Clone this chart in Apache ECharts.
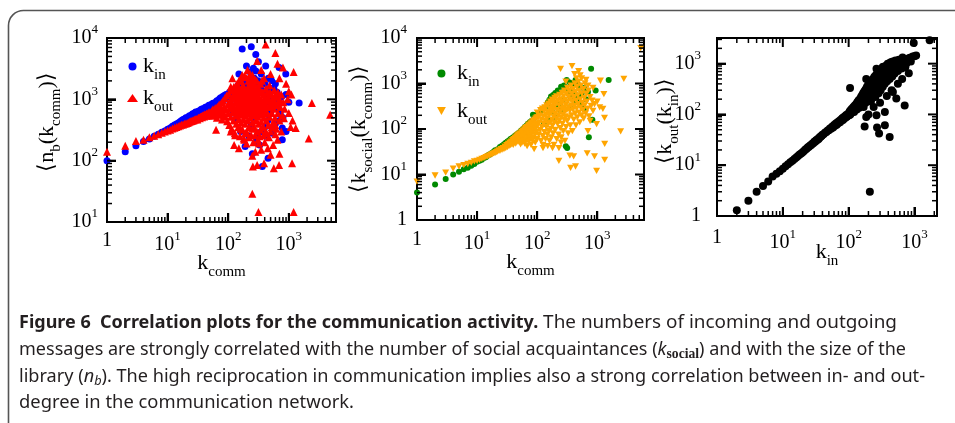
<!DOCTYPE html>
<html><head><meta charset="utf-8">
<script src="https://cdn.jsdelivr.net/npm/echarts@6/dist/echarts.min.js"></script>
<style>html,body{margin:0;padding:0;background:#fff}#c{width:955px;height:423px}</style>
</head><body><div id="c"></div>
<script>
// ---------------- DATA ----------------
// Panel 1: <n_b(k_comm)> vs k_comm
const p1_kin = [
[1,100],[2,140],[3,175],[4,205],[5,225],[6,250],[7,270],[8,290],[9,305],[10,325],[11,340],[12,365],[13,380],[14,395],[15,410],[16,430],[17,450],[18,470],[19,480],[20,500],[21,490],[22,520],[23,540],[24,530],[25,560],[26,580],[27,550],[28,600],[29,620],[30,600],[32,640],[34,660],[36,690],[38,700],[40,680],[42,740],[44,750],[46,720],[48,800],[50,770],[53,830],[56,860],[59,820],[62,900],[65,950],[68,880],[71,1000],[74,1050],[77,950],[80,1100],[83,1050],[86,1150],[89,1000],[92,1200],[95,1100],[98,1150],
[105,1300],[112,1150],[120,1400],[128,1250],[136,1500],[145,1700],[155,1450],[165,1900],[175,1600],[185,2100],[195,1800],[205,1500],[215,2000],[225,1700],[240,2300],[255,1900],[270,2200],[290,1800],[310,2000],[330,1600],[360,1400],[400,1800],[440,1300],[480,1100],[530,1500],[580,1000],[640,1300],[700,900],[760,1100],
[170,6600],[240,7200],[285,5400],[315,4100],[415,3500],[690,3300],[890,2600],[1480,870],[285,2900],[565,1500],[260,3200],[200,3500],[350,2600],[460,2200],[520,2000],[600,1800],[900,1200],[1000,900],[150,2600],[230,2800],
[780,340],[780,220],[535,280],[415,250],[250,130],[190,170],[455,110],[365,80],[300,250],[280,200],[220,250],[160,300],[350,300],[400,350],[450,450],[500,600],[650,700],[720,600],[800,500],[600,400],[250,500],[200,600],[150,700],[180,900],[220,800],[260,700],[320,600],[380,800],[430,900],[130,450],[120,600],[140,900],[110,800],[700,450],[550,350],[330,180],[240,380],[900,300]
];
const p1_kout = [
[1,140],[2,175],[3,210],[4,220],[5,240],[6,255],[7,270],[8,285],[9,300],[10,310],[11,320],[12,335],[13,345],[14,355],[15,365],[16,375],[17,385],[18,390],[19,400],[20,405],[21,410],[22,420],[23,430],[24,440],[25,445],[26,450],[27,455],[28,470],[29,475],[30,480],[31,470],[32,500],[33,505],[34,490],[35,520],[36,530],[37,510],[38,545],[39,550],[40,525],[41,570],[42,560],[43,540],[44,590],[45,575],[46,545],[47,610],[48,600],[49,560],[50,620],[52,580],[54,650],[55,540],[56,690],[58,610],[60,560],[61,720],[63,640],[65,500],[66,760],[68,600],[70,680],[71,820],[73,560],[75,720],[77,880],[79,470],[80,640],[82,950],[84,560],[86,760],[88,1050],[90,520],[92,680],[94,1150],[96,440],[98,820],[100,600],
[102,1250],[104,380],[106,720],[108,950],[110,520],[112,1400],[114,330],[116,800],[118,620],[120,1100],[122,450],[124,1600],[126,700],[128,280],[130,900],[132,540],[134,1300],[136,400],[138,750],[140,1800],[142,600],[144,1000],[146,350],[148,820],[150,480],[152,1500],[154,650],[156,250],[158,1100],[160,720],[162,420],[164,2000],[166,880],[168,560],[170,1250],[172,320],[174,700],[176,1700],[178,480],[180,950],[182,620],[184,220],[186,1400],[188,780],[190,400],[192,1050],[194,540],[196,2300],[198,850],[200,300],[203,650],[206,1200],[209,450],[212,900],[215,1600],[218,580],[221,350],[224,1000],[227,750],[230,2600],[233,500],[236,1300],[239,260],[242,850],[245,620],[248,1800],[251,420],[254,1100],[257,700],[260,200],[263,950],[266,550],[269,1450],[272,340],[275,800],[278,2100],[281,600],[284,1000],[287,450],[290,1250],[294,720],[298,300],[302,880],[306,520],[310,1600],[314,650],[318,400],[322,1100],[326,780],[330,250],[335,950],[340,560],[345,1350],[350,430],[355,700],[360,2000],[366,600],[372,900],[378,350],[384,1200],[390,500],[396,800],[402,280],[410,650],[418,1500],[426,450],[434,950],[442,600],[450,1100],[460,380],[470,750],[480,520],[490,1300],[500,300],[512,880],[524,600],[536,1000],[548,420],[560,700],[575,1400],[590,500],[605,850],[620,330],[640,1100],[660,600],[680,900],[700,450],[720,750],[750,1200],[780,550],[810,900],
[105,900],[110,1600],[115,1050],[120,750],[125,1250],[130,650],[135,1500],[140,1150],[145,900],[150,2000],[155,1350],[160,1000],[165,600],[170,1600],[175,1150],[180,780],[185,2400],[190,1250],[195,700],[200,1400],[205,1000],[210,750],[215,2000],[220,1250],[225,600],[230,1500],[235,850],[240,1100],[245,2200],[250,900],[255,1600],[260,1250],[265,750],[270,1800],[275,1000],[280,850],[285,1400],[290,650],[295,2000],[300,1200],[310,900],[320,1400],[330,700],[340,1800],[350,1000],[360,750],[370,1300],[380,900],[390,2200],[400,1050],[420,800],[440,1300],[460,950],[480,1700],[500,800],[520,1200],[550,900],[580,1100],[620,800],[660,1300],[700,1000],
[110,300],[130,260],[160,330],[190,280],[220,240],[250,330],[280,260],[310,220],[340,320],[380,260],[420,300],[470,240],[520,350],[600,380],
[117,2200],[208,3000],[300,4200],[415,7800],[600,5700],[350,3000],[250,2500],[170,2500],[500,2600],[700,2200],[1000,1350],[1100,1200],[1200,2800],[2400,870],[4800,560],[830,490],[1070,355],[1300,340],[2130,230],[1130,91],[690,85],[565,75],[390,91],[300,85],[255,80],[250,120],[500,125],[250,29],[315,14.6],[1200,14.6],[150,160],[125,180],[63,320],[900,1800],[850,700],[750,300],[650,220],[550,180],[450,160],[400,200],[350,150],[320,190],[280,140],[200,190],[180,230],[1000,600],[600,270],[700,130],[950,1000],[1150,450],[800,3300],[650,3800],[230,1900],[180,1500],[140,1400]
];
// Panel 2: <k_social(k_comm)> vs k_comm
const p2_kin = [
[1,4],[2,6],[3,8],[4,10],[5,11.5],[6,13],[7,14],[8,15.5],[9,17],[10,19],[11,20],[12,21],[13,23],[14,24],[15,26],[16,27],[17,29],[18,30],[19,32],[20,34],[22,36],[24,40],[26,43],[28,46],[30,50],[32,53],[34,56],[36,60],[38,63],[40,66],[43,72],[46,77],[50,84],[54,92],[58,100],[62,110],[66,118],[70,130],[75,140],[80,150],[85,205],[90,175],[95,190],[100,210],[110,230],[120,260],[130,290],[147,315],[170,520],[150,380],[160,440],[185,560],[200,620],[220,700],[250,850],[280,900],[310,1200],[350,1050],[380,730],[435,1200],[400,950],[470,1000],[500,850],[790,2100],[1550,1200],[940,700],[600,800],[700,650],[550,600],[300,700],[330,600],[360,500],[420,600],[480,500],[650,450],[830,160],[725,66],[316,38],[300,42],[350,300],[250,250],[200,180],[160,160],[130,130],[240,350],[270,450],[450,400],[550,350],[600,280],[220,300],[180,230]
];
const p2_kout = [
[1,7],[2,9.5],[3,11],[4,13.5],[5,15],[6,16],[7,17],[8,18],[9,19.5],[10,20],[11,21],[12,22],[13,23],[14,24],[15,25],[16,26],[17,27],[18,28],[19,29],[20,30],[21,31],[22,32],[23,34],[24,33],[25,36],[26,35],[27,38],[28,36],[29,41],[30,38],[31,44],[32,40],[33,47],[34,42],[35,50],[36,44],[37,53],[38,46],[39,57],[40,45],[41,60],[42,50],[43,64],[44,48],[45,68],[46,55],[47,72],[48,52],[49,76],[50,58],[52,80],[53,46],[54,62],[55,86],[56,50],[57,66],[58,92],[59,55],[60,70],[61,98],[62,48],[63,75],[64,104],[65,58],[66,80],[67,110],[68,42],[69,65],[70,86],[71,118],[72,52],[73,92],[74,125],[75,70],[76,60],[77,98],[78,133],[79,45],[80,78],[81,105],[82,140],[83,56],[84,88],[85,112],[86,150],[87,65],[88,95],[89,36],[90,120],[91,160],[92,75],[93,50],[94,100],[95,170],[96,130],[97,60],[98,85],[99,180],
[100,230],[100,60],[102,120],[104,180],[106,75],[108,140],[110,200],[112,95],[114,260],[116,55],[118,160],[120,110],[122,280],[124,70],[126,190],[128,130],[130,250],[132,85],[134,300],[136,150],[138,60],[140,210],[142,110],[144,330],[146,170],[148,75],[150,240],[152,130],[154,360],[156,90],[158,200],[160,55],[162,280],[164,140],[166,400],[168,100],[170,230],[172,65],[174,310],[176,160],[178,440],[180,120],[182,260],[184,80],[186,350],[188,190],[190,45],[192,300],[194,140],[196,480],[198,220],[200,95],[203,380],[206,170],[209,520],[212,60],[215,260],[218,130],[221,420],[224,200],[227,75],[230,330],[233,150],[236,560],[239,240],[242,105],[245,450],[248,180],[251,65],[254,360],[257,280],[260,620],[263,130],[266,400],[269,210],[272,90],[275,520],[278,300],[281,160],[284,700],[287,240],[290,55],[293,440],[296,190],[300,340],[304,110],[308,600],[312,260],[316,150],[320,800],[324,400],[328,80],[332,300],[336,520],[340,180],[345,700],[350,250],[355,120],[360,450],[365,900],[370,330],[375,200],[380,600],[385,90],[390,400],[395,270],[400,750],[406,160],[412,500],[418,320],[424,1000],[430,220],[436,650],[442,120],[448,420],[454,280],[460,850],[467,180],[474,550],[481,350],[488,1100],[495,230],[503,700],[511,140],[519,450],[527,300],[535,900],[545,200],[555,600],[565,380],[575,260],[585,750],[595,170],[605,480],[615,330],[625,1000],[640,220],[655,600],[670,400],[690,280],[710,700],[730,190],[760,500],[790,320],[820,420],
[125,38],[180,38],[230,20],[245,2100],[350,26],[360,14],[380,2400],[405,25],[435,15],[490,1860],[680,29],[900,25],[975,12],[975,128],[1130,1150],[2770,1260],[1290,585],[1240,277],[1320,175],[2450,89],[1330,47],[1330,21],[5300,6000],[1000,400],[1100,300],[700,900],[650,1200],[550,1300],[850,800],[900,350],[125,45],[230,38],[520,1500],[450,1300],[300,1100],[420,1600],[850,250],[760,150],[700,90],[250,50],[150,42]
];
// Panel 3: <k_out(k_in)> vs k_in
const p3_kout = [
[2,1.3],[3,2],[4,3],[5,3.9],[6,4.8],[7,6],[8,6.8],[9,7.6],[10,8.5],[11,9.5],[12,10.5],[13,11.4],[14,12.3],[15,13.3],[16,14.2],[17,15.2],[18,16.2],[19,17],[20,18],[21,19],[22,20.5],[23,21],[24,22.5],[25,23],[26,24.5],[27,25],[28,26.5],[29,27],[30,29],[31,29],[32,31],[33,31],[34,33],[35,33],[36,35],[37,36],[38,37],[39,38],[40,40],[42,41],[44,44],[46,45],[48,48],[50,49],[52,53],[54,52],[56,57],[58,55],[60,62],[62,60],[64,66],[66,63],[68,70],[70,68],[72,74],[74,70],[76,79],[78,76],[80,84],[82,78],[84,88],[86,83],[88,92],[90,87],[92,97],[94,90],[96,100],[98,95],[100,105],
[102,96],[104,115],[106,100],[108,122],[110,108],[112,130],[115,118],[118,140],[121,112],[124,150],[127,130],[130,160],[133,125],[136,175],[139,145],[142,190],[145,135],[148,200],[151,160],[154,220],[157,150],[160,240],[163,180],[166,260],[169,140],[172,280],[175,200],[178,300],[181,170],[184,320],[187,230],[190,350],[194,190],[198,380],[202,260],[206,220],[210,400],[214,300],[218,180],[222,450],[226,330],[230,250],[234,500],[238,360],[242,280],[246,550],[250,400],[255,220],[260,600],[265,430],[270,320],[275,650],[280,480],[285,260],[290,700],[295,380],[300,540],[306,300],[312,750],[318,440],[324,600],[330,350],[336,860],[342,480],[348,680],[354,400],[360,900],[368,560],[376,750],[384,450],[392,1000],[400,620],[410,820],[420,500],[430,1050],[440,700],[450,880],[460,560],[470,1100],[480,760],[490,950],[500,640],[515,1150],[530,850],[545,1000],[560,720],[580,1200],[600,900],[620,1100],[640,800],[660,1320],[680,1000],[700,1200],[725,850],[750,1000],[780,1250],[820,650],[850,1300],[880,1100],[940,1380],[1000,1400],[1060,1450],[975,2550],[1700,2900],
[105,330],[175,58],[185,89],[265,96],[355,112],[270,55],[290,42],[420,36],[355,61],[470,275],[530,205],[710,150],[210,3],[330,860],[445,1070],[265,790],[185,500],[200,100],[240,140],[300,170],[380,230],[450,300],[560,400],[650,500]
];

// axis ranges and tick values
const p1X = {min:1, max:6000, major:[1,10,100,1000], minor:[2,3,4,5,6,7,8,9,20,30,40,50,60,70,80,90,200,300,400,500,600,700,800,900,2000,3000,4000,5000]};
const p1Y = {min:10, max:10000, major:[10,100,1000,10000], minor:[20,30,40,50,60,70,80,90,200,300,400,500,600,700,800,900,2000,3000,4000,5000,6000,7000,8000,9000]};
const p2X = {min:1, max:6000, major:[1,10,100,1000], minor:[2,3,4,5,6,7,8,9,20,30,40,50,60,70,80,90,200,300,400,500,600,700,800,900,2000,3000,4000,5000]};
const p2Y = {min:1, max:10000, major:[1,10,100,1000,10000], minor:[2,3,4,5,6,7,8,9,20,30,40,50,60,70,80,90,200,300,400,500,600,700,800,900,2000,3000,4000,5000,6000,7000,8000,9000]};
const p3X = {min:1, max:2200, major:[1,10,100,1000], minor:[2,3,4,5,6,7,8,9,20,30,40,50,60,70,80,90,200,300,400,500,600,700,800,900,2000]};
const p3Y = {min:1, max:3200, major:[1,10,100,1000], minor:[2,3,4,5,6,7,8,9,20,30,40,50,60,70,80,90,200,300,400,500,600,700,800,900,2000,3000]};

// texts
const names = {
  p1x:'{m|k}{s|comm}', p1y:'{m|⟨n}{s|b}{m|(k}{s|comm}{m|)⟩}',
  p2x:'{m|k}{s|comm}', p2y:'{m|⟨k}{s|social}{m|(k}{s|comm}{m|)⟩}',
  p3x:'{m|k}{s|in}',   p3y:'{m|⟨k}{s|out}{m|(k}{s|in}{m|)⟩}'
};
const legendText = {p1in:'{m|k}{s|in}', p1out:'{m|k}{s|out}', p2in:'{m|k}{s|in}', p2out:'{m|k}{s|out}'};
const caption = [
  '{b|Figure 6  Correlation plots for the communication activity.} The numbers of incoming and outgoing',
  'messages are strongly correlated with the number of social acquaintances ({i|k}{ss|social}) and with the size of the',
  'library ({i|n}{ib|b}). The high reciprocation in communication implies also a strong correlation between in- and out-',
  'degree in the communication network.'
];

// ---------------- CHART ----------------
const SERIF = 'Liberation Serif';
const SANS = 'Noto Sans';
const CAP_FS = 18.5;
const richTick = {
  b: {fontSize:20, fontFamily:SERIF, color:'#000'},
  sup: {fontSize:13, fontFamily:SERIF, color:'#000', padding:[0,0,16,0]},
  one: {fontSize:20, fontFamily:SERIF, color:'#000'}
};
const richName = {
  m: {fontSize:22, fontFamily:SERIF, color:'#000'},
  s: {fontSize:15, fontFamily:SERIF, color:'#000', padding:[18,0,0,0]}
};
function decadeLabel(v){
  const e = Math.log10(v);
  const r = Math.round(e);
  if (Math.abs(e - r) > 1e-6) return '';
  return r === 0 ? '{one|1}' : '{b|10}{sup|' + r + '}';
}

function axisFor(dim, g, rng, o){
  return {
    type:'log', logBase:10, gridIndex:g, min:rng.min, max:rng.max,
    position: dim === 'x' ? 'bottom' : 'left',
    splitLine:{show:false},
    axisLine:{show:true, onZero:false, lineStyle:{color:'#000', width:2}},
    axisTick:{show:true, inside:true, length:9, lineStyle:{color:'#000', width:2}},
    axisLabel:{formatter:decadeLabel, margin:o.margin, rich:richTick, color:'#000'},
    name:o.name, nameLocation:'middle', nameGap:o.nameGap, nameRotate: dim === 'y' ? 90 : 0,
    nameMoveOverlap:false,
    nameTextStyle:{rich:richName, color:'#000', fontFamily:SERIF, fontSize:22, padding:o.namePad || 0}
  };
}

// tick marks on all four sides, as thin rect items placed through the log axes
function tickItems(xr, yr){
  const items = [];
  const add = (x, y, size, off) => items.push({value:[x, y], symbol:'rect', symbolSize:size,
    symbolOffset:off, symbolKeepAspect:false, itemStyle:{color:'#000', opacity:1}});
  xr.major.forEach(v => { add(v, yr.min, [2, 9], [0, -4.5]); add(v, yr.max, [2, 9], [0, 4.5]); });
  xr.minor.forEach(v => { add(v, yr.min, [1.5, 5], [0, -2.5]); add(v, yr.max, [1.5, 5], [0, 2.5]); });
  yr.major.forEach(v => { add(xr.min, v, [9, 2], [4.5, 0]); add(xr.max, v, [9, 2], [-4.5, 0]); });
  yr.minor.forEach(v => { add(xr.min, v, [5, 1.5], [2.5, 0]); add(xr.max, v, [5, 1.5], [-2.5, 0]); });
  return items;
}

const INV_TRI = 'path://M0,0L10,0L5,9Z';
function sc(name, g, data, symbol, size, color){
  return {type:'scatter', name, xAxisIndex:g, yAxisIndex:g, data, symbol, symbolSize:size,
    symbolKeepAspect:true, itemStyle:{color, opacity:1}, clip:false};
}

const capRich = {
  b:{fontFamily:SANS, fontSize:17.6, fontWeight:'bold', fill:'#231f20'},
  i:{fontFamily:SANS, fontSize:CAP_FS, fontStyle:'italic', fill:'#231f20'},
  ss:{fontFamily:SERIF, fontSize:14, fontWeight:'bold', fill:'#231f20', padding:[8,0,0,0]},
  ib:{fontFamily:SANS, fontSize:13, fontStyle:'italic', fill:'#231f20', padding:[8,0,0,0]}
};
const capY = [323, 350, 377, 403];
const capRight = [897, 906, 925];
function capWidth(t){
  try {
    const el = new echarts.graphic.Text({style:{text:t, rich:capRich, fontFamily:SANS, fontSize:CAP_FS}});
    return el.getBoundingRect().width;
  } catch (e) {
    const cv = document.createElement('canvas').getContext('2d');
    cv.font = CAP_FS + 'px "' + SANS + '"';
    return cv.measureText(t.replace(/\{\w+\||\}/g, '')).width;
  }
}
const capScales = caption.map((t, i) => i < 3 ? (capRight[i] - 19) / capWidth(t) : 0);
capScales[3] = (capScales[0] + capScales[1] + capScales[2]) / 3;

const legendBase = {orient:'vertical', padding:0, itemHeight:8, selectedMode:false,
  formatter: n => legendText[n], textStyle:{rich:richName, color:'#000'}};

const gridStyle = {show:true, borderColor:'#000', borderWidth:2, backgroundColor:'rgba(0,0,0,0)'};

const option = {
  animation:false,
  grid:[
    Object.assign({left:107, top:38, width:229, height:184}, gridStyle),
    Object.assign({left:417, top:38, width:227, height:182}, gridStyle),
    Object.assign({left:717, top:38, width:220, height:178}, gridStyle)
  ],
  xAxis:[
    axisFor('x', 0, p1X, {margin:8.5, name:names.p1x, nameGap:24.5}),
    axisFor('x', 1, p2X, {margin:9.5, name:names.p2x, nameGap:26}),
    axisFor('x', 2, p3X, {margin:12, name:names.p3x, nameGap:20})
  ],
  yAxis:[
    axisFor('y', 0, p1Y, {margin:9, name:names.p1y, nameGap:43, namePad:[0,0,0,16]}),
    axisFor('y', 1, p2Y, {margin:10, name:names.p2y, nameGap:41}),
    axisFor('y', 2, p3Y, {margin:16, name:names.p3y, nameGap:35, namePad:[0,0,0,12]})
  ],
  legend:[
    Object.assign({}, legendBase, {left:127, top:55.5, itemWidth:11, itemGap:4, data:['p1in','p1out']}),
    Object.assign({}, legendBase, {left:437, top:62.5, itemWidth:21, itemGap:10, data:['p2in','p2out']})
  ],
  series:[
    sc('p1in', 0, p1_kin, 'circle', 7, '#0000ff'),
    sc('p1out', 0, p1_kout.concat(tickItems(p1X, p1Y)), 'triangle', 8, '#ff0000'),
    sc('p2in', 1, p2_kin, 'circle', 6, '#008a00'),
    sc('p2out', 1, p2_kout.concat(tickItems(p2X, p2Y)), INV_TRI, 7, '#ffa500'),
    sc('p3', 2, p3_kout.concat(tickItems(p3X, p3Y)), 'circle', 8, '#000000')
  ],
  graphic:[
    {type:'rect', silent:true, shape:{x:8.5, y:10.5, width:990, height:450, r:15},
      style:{fill:null, stroke:'#555', lineWidth:1.6}}
  ].concat(caption.map((t, i) => ({
    type:'text', silent:true, x:19, y:capY[i], scaleX:capScales[i], scaleY:1,
    style:{text:t, rich:capRich, fontFamily:SANS, fontSize:CAP_FS, fill:'#231f20', align:'left', verticalAlign:'middle'}
  })))
};

const chart = echarts.init(document.getElementById('c'));
chart.setOption(option);
</script>
</body></html>
